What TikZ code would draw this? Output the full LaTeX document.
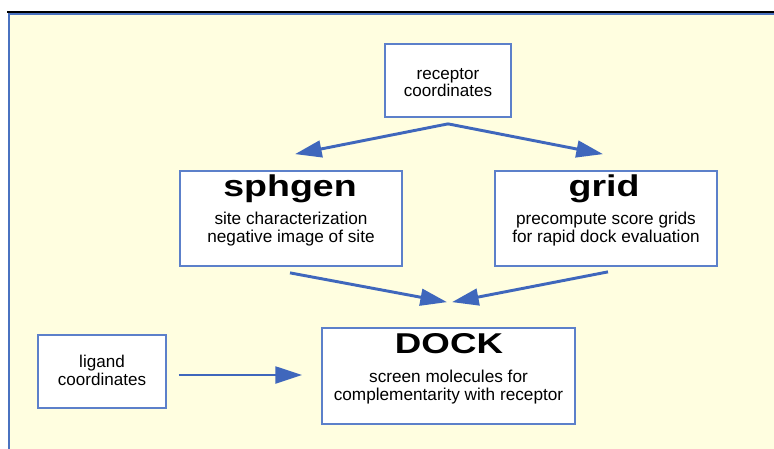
\documentclass[tikz,border=0pt]{standalone}
\usepackage{fontspec}
\usepackage{graphicx}
\setmainfont{Liberation Sans}
\usetikzlibrary{arrows.meta,calc}
\definecolor{bgyellow}{HTML}{FFFEE0}
\definecolor{frameblue}{HTML}{4A72C0}
\definecolor{boxblue}{HTML}{5C80CA}
\definecolor{arrblue}{HTML}{3F67BC}
\newcommand{\widettl}[1]{\scalebox{1.25}[1]{#1}}
\newcommand{\widedock}[1]{\scalebox{1.28}[1]{#1}}
\tikzset{
  box/.style={draw=boxblue, line width=1.3pt, fill=white, inner sep=0pt},
  ttl/.style={font=\fontsize{22.5}{24}\selectfont\bfseries, inner sep=0pt, anchor=base},
  sub/.style={font=\fontsize{12.9}{13.5}\selectfont, align=center, inner sep=0pt, anchor=base},
  small/.style={font=\fontsize{12.8}{12.8}\selectfont, align=center, inner sep=0pt, anchor=base},
  arr/.style={draw=arrblue, line width=2.2pt, -{Triangle[length=20pt,width=12.5pt]}}
}
\begin{document}
\begin{tikzpicture}[x=0.75pt,y=-0.75pt]
\useasboundingbox (0,0) rectangle (774,449);
\fill[white] (0,0) rectangle (774,449);
% frame
\fill[bgyellow] (8,13) rectangle (774,449);
\draw[black, line width=1.2pt] (7,12) -- (774,12);
\draw[frameblue, line width=1.5pt] (8.5,449) -- (8.5,14.5) -- (774,14.5);
% boxes
\node[box, minimum width=126*0.75pt, minimum height=73*0.75pt] (receptor) at (448,80.5) {};
\node[small] (receptorT) at (448,97) {receptor\\coordinates};
\node[box, minimum width=222*0.75pt, minimum height=95*0.75pt] (sphgen) at (291,218.5) {};
\node[ttl] (sphgenT) at (290,196) {\widettl{sphgen}};
\node[sub] (sphgenS) at (291,242) {site characterization\\negative image of site};
\node[box, minimum width=222*0.75pt, minimum height=95*0.75pt] (grid) at (606,218.5) {};
\node[ttl] (gridT) at (604,196) {\widettl{grid}};
\node[sub] (gridS) at (606,242) {precompute score grids\\for rapid dock evaluation};
\node[box, minimum width=128*0.75pt, minimum height=73*0.75pt] (ligand) at (102,371.5) {};
\node[small] (ligandT) at (102,385) {ligand\\coordinates};
\node[box, minimum width=253*0.75pt, minimum height=96*0.75pt] (dock) at (448.5,376) {};
\node[ttl, font=\fontsize{21.5}{24}\selectfont\bfseries] (dockT) at (449,353) {\widedock{DOCK}};
\node[sub] (dockS) at (448.5,400) {screen molecules for\\complementarity with receptor};
% arrows
\draw[arr] ($(receptor.south)+(0,6)$) -- ($(sphgen.north)+(4,-16)$);
\draw[arr] ($(receptor.south)+(0,6)$) -- ($(grid.north)+(-3,-16)$);
\draw[arr] ($(sphgen.south)+(-1,6)$) -- ($(dock.north)+(-1.5,-25)$);
\draw[arr] ($(grid.south)+(2,5)$) -- ($(dock.north)+(3.5,-25)$);
\draw[arr] ($(ligand.east)+(12,3.5)$) -- ($(dock.west)+(-19,-1)$);
\end{tikzpicture}
\end{document}
